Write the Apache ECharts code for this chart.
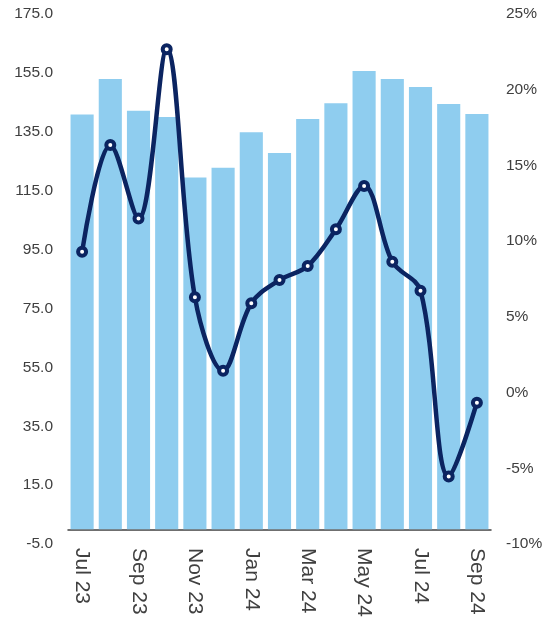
<!DOCTYPE html>
<html>
<head>
<meta charset="utf-8">
<style>
  html, body { margin: 0; padding: 0; background: #fff; }
  #chart { width: 543px; height: 617px; }
</style>
<script src="https://cdn.jsdelivr.net/npm/echarts@6/dist/echarts.min.js"></script>
</head>
<body>
<div id="chart"></div>
<script>
const months = ['Jul 23', 'Aug 23', 'Sep 23', 'Oct 23', 'Nov 23', 'Dec 23', 'Jan 24', 'Feb 24',
                'Mar 24', 'Apr 24', 'May 24', 'Jun 24', 'Jul 24', 'Aug 24', 'Sep 24'];
const barValues = [140.9, 152.9, 142.1, 140.0, 119.5, 122.8, 134.8, 127.8,
                   139.3, 144.7, 155.6, 152.9, 150.2, 144.4, 141.0];
const lineValues = [9.3, 16.35, 11.5, 22.67, 6.3, 1.44, 5.9, 7.43,
                    8.36, 10.78, 13.64, 8.64, 6.73, -5.55, -0.67];

const textColor = '#404040';
const chart = echarts.init(document.getElementById('chart'));

chart.setOption({
  animation: false,
  grid: { left: 68, right: 52, top: 14, bottom: 73, outerBoundsMode: 'none', containLabel: false },
  xAxis: {
    type: 'category',
    data: months,
    axisLine: { onZero: true, lineStyle: { color: '#404040', width: 1.5 } },
    axisTick: { show: false },
    axisLabel: {
      interval: 1, rotate: -90, margin: 4,
      fontFamily: 'Liberation Sans, Arial, sans-serif', fontSize: 21, color: textColor
    }
  },
  yAxis: [
    {
      type: 'value', min: -5, max: 175, interval: 20,
      splitLine: { show: false }, axisLine: { show: false }, axisTick: { show: false },
      axisLabel: {
        margin: 15, formatter: v => v.toFixed(1),
        fontFamily: 'Liberation Sans, Arial, sans-serif', fontSize: 15.5, color: textColor
      }
    },
    {
      type: 'value', min: -10, max: 25, interval: 5,
      splitLine: { show: false }, axisLine: { show: false }, axisTick: { show: false },
      axisLabel: {
        margin: 15, formatter: v => v + '%',
        fontFamily: 'Liberation Sans, Arial, sans-serif', fontSize: 15.5, color: textColor
      }
    }
  ],
  series: [
    {
      type: 'bar',
      data: barValues,
      barCategoryGap: '18%',
      itemStyle: { color: '#8fcdef' }
    },
    {
      type: 'line',
      yAxisIndex: 1,
      data: lineValues,
      smooth: 0.35,
      symbol: 'circle',
      symbolSize: 8,
      lineStyle: { color: '#0b2461', width: 4.5 },
      itemStyle: { color: '#ffffff', borderColor: '#0b2461', borderWidth: 4 }
    }
  ]
});
</script>
</body>
</html>
